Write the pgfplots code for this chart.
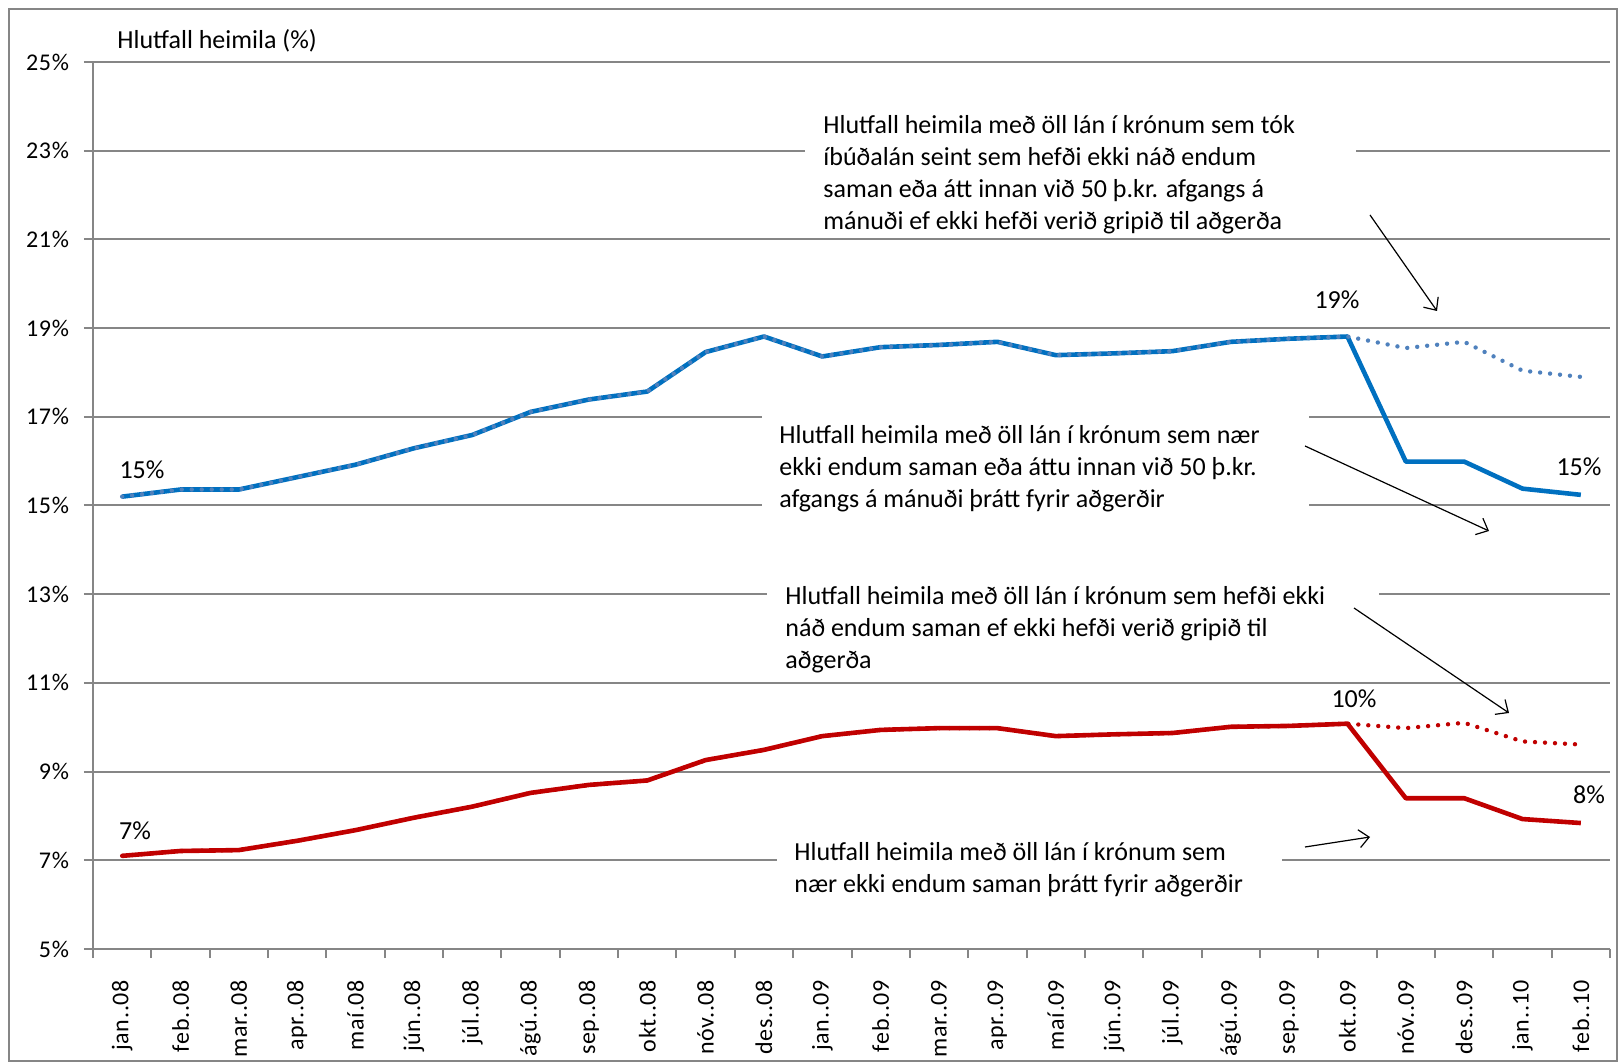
\documentclass[border=0pt]{standalone}
\usepackage{fontspec}
\setmainfont{Carlito}
\newfontfamily\tickfont[LetterSpace=3]{Carlito}
\usepackage{pgfplots}
\usepackage{pgfplotstable}
\pgfplotsset{compat=1.18}
\usetikzlibrary{arrows.meta}
\definecolor{gridgray}{HTML}{868686}
\definecolor{solidblue}{HTML}{0070C0}
\definecolor{dotblue}{HTML}{4F81BD}
\definecolor{darkred}{HTML}{C00000}

% idx, actual (solid) and counterfactual (dotted) shares, %
\pgfplotstableread{
idx blueA blueC redA redC
0 15.20 15.20 7.10 7.10
1 15.36 15.36 7.21 7.21
2 15.36 15.36 7.23 7.23
3 15.64 15.64 7.44 7.44
4 15.92 15.92 7.68 7.68
5 16.29 16.29 7.96 7.96
6 16.59 16.59 8.21 8.21
7 17.11 17.11 8.52 8.52
8 17.39 17.39 8.70 8.70
9 17.57 17.57 8.80 8.80
10 18.46 18.46 9.26 9.26
11 18.81 18.81 9.49 9.49
12 18.36 18.36 9.80 9.80
13 18.57 18.57 9.94 9.94
14 18.62 18.62 9.98 9.98
15 18.69 18.69 9.98 9.98
16 18.39 18.39 9.80 9.80
17 18.43 18.43 9.84 9.84
18 18.48 18.48 9.87 9.87
19 18.69 18.69 10.01 10.01
20 18.76 18.76 10.03 10.03
21 18.81 18.81 10.08 10.08
22 15.99 18.55 8.40 9.98
23 15.99 18.69 8.40 10.10
24 15.38 18.04 7.93 9.68
25 15.24 17.90 7.84 9.61
}\shares

\tikzset{
  ann/.style={font=\fontsize{13}{16}\selectfont, align=left, anchor=west, inner sep=0pt},
  dlab/.style={font=\fontsize{13}{15}\selectfont, inner sep=0pt},
  callout/.style={line width=0.6pt, -{Straight Barb[length=5pt,width=9pt]}},
}

\begin{document}
\begin{tikzpicture}
% canvas in source pixels (1px = 0.5pt), axis corner at px (93,949)
\begin{scope}[x=0.5pt, y=-0.5pt, shift={(-46.5pt,474.5pt)}]
  \path[use as bounding box] (0,0) rectangle (1621,1064);
\end{scope}
\pgfinterruptboundingbox
\begin{axis}[
  at={(0,0)}, anchor=south west,
  scale only axis, width=758.5pt, height=443.5pt,
  xmin=-0.5, xmax=25.5, ymin=5, ymax=25,
  axis lines*=left,
  axis line style={gridgray, line width=1pt},
  tick style={gridgray, line width=1pt},
  tick align=outside, major tick length=4.5pt,
  ymajorgrids, grid style={gridgray, line width=1pt},
  ytick={5,7,...,25},
  yticklabel={\pgfmathprintnumber{\tick}\%},
  yticklabel shift=4pt,
  xtick={-0.5,0.5,...,25.5},
  x tick label as interval,
  xticklabels={jan..08,feb..08,mar..08,apr..08,maí.08,jún..08,júl..08,ágú..08,sep..08,okt..08,nóv..08,des..08,jan..09,feb..09,mar..09,apr..09,maí.09,jún..09,júl..09,ágú..09,sep..09,okt..09,nóv..09,des..09,jan..10,feb..10},
  xticklabel style={rotate=90, anchor=east},
  xticklabel shift=7.5pt,
  every tick label/.append style={font=\tickfont\fontsize{12}{14}\selectfont},
  /pgf/number format/assume math mode=true,
  clip=false,
]
\addplot[solidblue, line width=2.3pt, line join=round] table[x=idx, y=blueA] {\shares};
\addplot[dotblue, line width=2.2pt, line cap=round, dash pattern=on 0pt off 5pt] table[x=idx, y=blueC] {\shares};
\addplot[darkred, line width=2.3pt, line join=round] table[x=idx, y=redA] {\shares};
\addplot[darkred, line width=2.2pt, line cap=round, dash pattern=on 0pt off 5pt] table[x=idx, y=redC] {\shares};
\end{axis}
\endpgfinterruptboundingbox

\begin{scope}[x=0.5pt, y=-0.5pt, shift={(-46.5pt,474.5pt)}]
  % chart frame
  \draw[gridgray, line width=0.8pt] (9,9) rectangle (1617,1061);
  % text boxes hiding the grid
  \fill[white] (805,105) rectangle (1356,234);
  \fill[white] (762,405) rectangle (1309,525);
  \fill[white] (767,574) rectangle (1379,676);
  \fill[white] (777,836) rectangle (1282,905);

  \node[ann, anchor=west] at (117,41) {Hlutfall heimila (\%)};

  \node[ann] at (823,175) {Hlutfall heimila með öll lán í krónum sem tók\\
    íbúðalán seint sem hefði ekki náð endum\\
    saman eða átt innan við 50 þ.kr. afgangs á\\
    mánuði ef ekki hefði verið gripið til aðgerða};
  \node[ann] at (779,469) {Hlutfall heimila með öll lán í krónum sem nær\\
    ekki endum saman eða áttu innan við 50 þ.kr.\\
    afgangs á mánuði þrátt fyrir aðgerðir};
  \node[ann] at (785,629.5) {Hlutfall heimila með öll lán í krónum sem hefði ekki\\
    náð endum saman ef ekki hefði verið gripið til\\
    aðgerða};
  \node[ann] at (794,870) {Hlutfall heimila með öll lán í krónum sem\\
    nær ekki endum saman þrátt fyrir aðgerðir};

  \draw[callout] (1370,215) -- (1437,311);
  \draw[callout] (1305,446) -- (1489,531);
  \draw[callout] (1354,608) -- (1509,713);
  \draw[callout] (1305,847) -- (1370,837);

  \node[dlab] at (142,470) {15\%};
  \node[dlab] at (1337,300) {19\%};
  \node[dlab] at (1579,467) {15\%};
  \node[dlab] at (135,831) {7\%};
  \node[dlab] at (1354,699) {10\%};
  \node[dlab] at (1589,795) {8\%};
\end{scope}
\end{tikzpicture}
\end{document}
